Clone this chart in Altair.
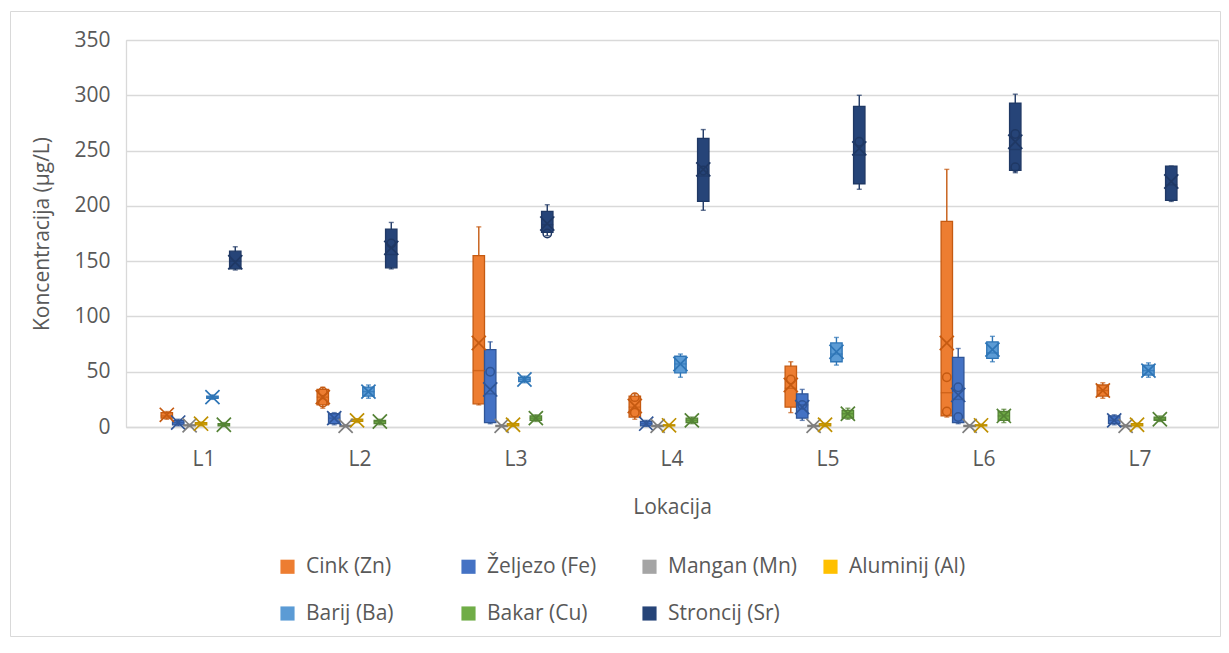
import altair as alt
import pandas as pd

locations = ["L1", "L2", "L3", "L4", "L5", "L6", "L7"]
series = ["Cink (Zn)", "Željezo (Fe)", "Mangan (Mn)", "Aluminij (Al)",
          "Barij (Ba)", "Bakar (Cu)", "Stroncij (Sr)"]
fill_colors = ["#ED7D31", "#4472C4", "#A5A5A5", "#FFC000", "#5B9BD5", "#70AD47", "#264478"]
line_colors = ["#C55A11", "#2F5597", "#7F7F7F", "#BF9000", "#2E75B6", "#548235", "#1F3864"]

# per series: values for L1..L7
zn_min = [7, 17, 20, 7, 13, 9, 26]
zn_q1 = [8, 20, 21, 9, 18, 10, 28]
zn_med = [10, 27, 51, 18, 35, 31, 33]
zn_q3 = [13, 34, 155, 28, 55, 186, 38]
zn_max = [14, 36, 181, 30, 59, 233, 40]
zn_mean = [11, 27, 76, 19, 38, 76, 33]

fe_min = [1, 2, 3, 0.5, 6, 3, 2]
fe_q1 = [2, 3, 4, 1, 8, 4, 3]
fe_med = [4, 8, 30, 3, 20, 25, 6]
fe_q3 = [6, 12, 70, 5, 30, 63, 10]
fe_max = [7, 13, 77, 6, 34, 71, 11]
fe_mean = [4, 8, 34, 3, 18, 29, 6]

mn_min = [0.5, 0.3, 0.3, 0.3, 0.3, 0.3, 0.3]
mn_q1 = [1, 0.5, 0.5, 0.5, 0.5, 0.5, 0.5]
mn_med = [1.5, 1, 1, 1, 1, 1, 1]
mn_q3 = [2, 1.5, 1.5, 1.5, 1.5, 1.5, 1.5]
mn_max = [2.5, 2, 2, 2, 2, 2, 2]
mn_mean = [1.5, 1, 1, 1, 1, 1, 1]

al_min = [1, 4, 0.5, 0.5, 0.5, 0.5, 0.5]
al_q1 = [2, 5, 1, 1, 1, 1, 1]
al_med = [3, 6, 2, 1.5, 2, 1.5, 2]
al_q3 = [4, 7, 3, 2, 3, 2, 3]
al_max = [4.5, 7.5, 3.5, 2.5, 3.5, 2.5, 3.5]
al_mean = [3, 6, 2, 1.5, 2, 1.5, 2]

ba_min = [25, 26, 40, 45, 56, 59, 45]
ba_q1 = [26, 28, 41, 49, 59, 62, 47]
ba_med = [27, 32, 43, 57, 66, 67, 51]
ba_q3 = [28, 36, 45, 64, 76, 77, 56]
ba_max = [29, 38, 46, 66, 81, 82, 58]
ba_mean = [27, 32, 43, 57, 68, 70, 51]

cu_min = [0.5, 2, 5, 3, 7, 4, 5]
cu_q1 = [1, 3, 6, 4, 8, 6, 6]
cu_med = [2, 5, 8, 6, 12, 10, 7]
cu_q3 = [3, 6, 10, 8, 15, 14, 9]
cu_max = [4, 7, 11, 9, 17, 16, 10]
cu_mean = [2, 5, 8, 6, 12, 10, 7]

sr_min = [142, 143, 173, 196, 215, 230, 204]
sr_q1 = [143, 144, 176, 204, 220, 232, 205]
sr_med = [150, 156, 183, 227, 246, 251, 219]
sr_q3 = [159, 179, 195, 261, 290, 293, 236]
sr_max = [163, 185, 201, 269, 300, 301, 236]
sr_mean = [149, 162, 184, 233, 252, 258, 222]

# individual inner data points (circles)
pt_loc = ["L2", "L2", "L3", "L4", "L4", "L5", "L5", "L5", "L6", "L6", "L6", "L6", "L6", "L6", "L3", "L4", "L2"]
pt_series = ["Cink (Zn)", "Cink (Zn)", "Željezo (Fe)", "Cink (Zn)", "Cink (Zn)", "Cink (Zn)",
             "Željezo (Fe)", "Stroncij (Sr)", "Cink (Zn)", "Cink (Zn)", "Željezo (Fe)",
             "Željezo (Fe)", "Stroncij (Sr)", "Stroncij (Sr)", "Stroncij (Sr)", "Stroncij (Sr)",
             "Stroncij (Sr)"]
pt_value = [32, 22, 50, 27, 13, 43, 20, 258, 45, 14, 36, 9, 265, 235, 175, 232, 166]

stats = {
    "Cink (Zn)": (zn_min, zn_q1, zn_med, zn_q3, zn_max, zn_mean),
    "Željezo (Fe)": (fe_min, fe_q1, fe_med, fe_q3, fe_max, fe_mean),
    "Mangan (Mn)": (mn_min, mn_q1, mn_med, mn_q3, mn_max, mn_mean),
    "Aluminij (Al)": (al_min, al_q1, al_med, al_q3, al_max, al_mean),
    "Barij (Ba)": (ba_min, ba_q1, ba_med, ba_q3, ba_max, ba_mean),
    "Bakar (Cu)": (cu_min, cu_q1, cu_med, cu_q3, cu_max, cu_mean),
    "Stroncij (Sr)": (sr_min, sr_q1, sr_med, sr_q3, sr_max, sr_mean),
}

dark_keys = [s + " ·" for s in series]

rows = []
for k, s in enumerate(series):
    mn, q1, md, q3, mx, me = stats[s]
    for i, loc in enumerate(locations):
        rows.append({"loc": loc, "series": s, "s2": dark_keys[k], "min": mn[i], "q1": q1[i],
                     "med": md[i], "q3": q3[i], "max": mx[i], "mean": me[i]})
df = pd.DataFrame(rows)
pts = pd.DataFrame({"loc": pt_loc, "series": pt_series,
                    "s2": [s + " ·" for s in pt_series], "min": pt_value})

FONT = "Open Sans"
TXT = "#595959"
FS = 21
W, H = 1092, 387

x_enc = alt.X("loc:N", sort=locations, scale=alt.Scale(paddingInner=0.45, paddingOuter=0.225),
              axis=alt.Axis(title="Lokacija", labelFontSize=FS, titleFontSize=FS,
                            labelColor=TXT, titleColor=TXT, labelFont=FONT, titleFont=FONT,
                            titleFontWeight="normal", labelAngle=0, ticks=False,
                            domainColor="#D9D9D9", domainWidth=1.3,
                            labelPadding=21, titlePadding=27))
xo = alt.XOffset("series:N", sort=series, scale=alt.Scale(domain=series,
                 paddingInner=0, paddingOuter=0.26, align=0))
fill_scale = alt.Scale(domain=series, range=fill_colors)
line_scale = alt.Scale(domain=dark_keys, range=line_colors)
stroke_enc = alt.Stroke("s2:N", scale=line_scale, legend=None)
dark_color = alt.Color("s2:N", scale=line_scale, legend=None)

base = alt.Chart(df)

# thin outer frame of the chart area (decoration only)
frame = alt.Chart(pd.DataFrame({"f": [0]})).mark_rect(
    fill=None, stroke="#D9D9D9", strokeWidth=1).encode(
    x=alt.value(-115.5), x2=alt.value(W + 2.5), y=alt.value(-28.5), y2=alt.value(H + 209.5))

whisker = base.mark_rule(strokeWidth=1.4).encode(
    x=x_enc, xOffset=xo,
    y=alt.Y("min:Q", scale=alt.Scale(domain=[0, 350]),
            axis=alt.Axis(title="Koncentracija (µg/L)", values=list(range(0, 351, 50)),
                          labelFontSize=FS, titleFontSize=FS, labelColor=TXT, titleColor=TXT,
                          labelFont=FONT, titleFont=FONT, titleFontWeight="normal",
                          ticks=False, domain=True, domainColor="#D9D9D9", domainWidth=1.3,
                          gridColor="#D9D9D9", gridWidth=1.3, labelPadding=16,
                          titlePadding=21)),
    y2="max:Q", color=dark_color)

cap_lo = base.mark_tick(size=5, thickness=1.4, orient="horizontal").encode(
    x=x_enc, xOffset=xo, y="min:Q", color=dark_color)
cap_hi = base.mark_tick(size=5, thickness=1.4, orient="horizontal").encode(
    x=x_enc, xOffset=xo, y="max:Q", color=dark_color)

box = base.mark_bar(strokeWidth=1.3).encode(
    x=x_enc, xOffset=xo, y="q1:Q", y2="q3:Q",
    fill=alt.Fill("series:N", scale=fill_scale, sort=series,
                  legend=alt.Legend(title=None, orient="none", legendX=151, legendY=516,
                                    direction="horizontal", columns=4, gridAlign="all",
                                    symbolType="square", symbolSize=200,
                                    symbolStrokeWidth=0,
                                    labelFontSize=FS, labelFont=FONT, labelColor=TXT,
                                    labelOffset=8, columnPadding=23, rowPadding=25,
                                    padding=0, labelLimit=300)),
    stroke=stroke_enc)

median = base.mark_tick(thickness=1.4, size=12, orient="horizontal").encode(
    x=x_enc, xOffset=xo, y="med:Q", color=dark_color)

circles = alt.Chart(pts).mark_point(shape="circle", filled=False, size=70, strokeWidth=1.5,
                                    opacity=1).encode(
    x=x_enc, xOffset=xo, y="min:Q", stroke=stroke_enc)

xshape = "M-1,-1L1,1M1,-1L-1,1"
mean_pt = base.mark_point(shape=xshape, filled=False, size=200, strokeWidth=1.7, opacity=1).encode(
    x=x_enc, xOffset=xo, y="mean:Q", stroke=stroke_enc)

chart = alt.layer(frame, whisker, cap_lo, cap_hi, box, median, circles, mean_pt).properties(
    width=W, height=H,
    autosize=alt.AutoSizeParams(type="none"),
    padding={"left": 118, "top": 32, "right": 3, "bottom": 218},
).configure_view(stroke=None).configure(font=FONT)

chart.save("out.html", embed_options={"renderer": "svg", "actions": False})
